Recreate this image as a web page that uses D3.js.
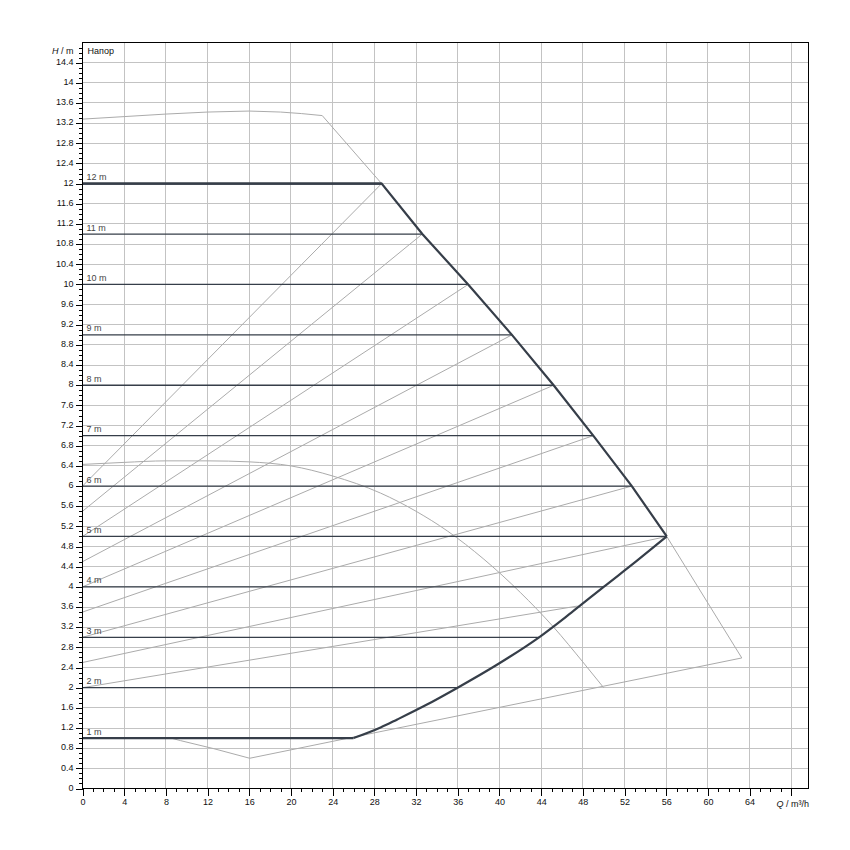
<!DOCTYPE html>
<html>
<head>
<meta charset="utf-8">
<script src="https://cdn.jsdelivr.net/npm/d3@7"></script>
<style>
  html, body { margin: 0; padding: 0; background: #fff; }
  svg { display: block; }
  text { font-family: "Liberation Sans", Arial, sans-serif; }
</style>
</head>
<body>
<svg id="chart" width="850" height="850"></svg>
<script>
// ---------------- DATA ----------------
const qTickLabels = [0, 4, 8, 12, 16, 20, 24, 28, 32, 36, 40, 44, 48, 52, 56, 60, 64];
const qGrid = [4, 8, 12, 16, 20, 24, 28, 32, 36, 40, 44, 48, 52, 56, 60, 64, 68];
const hTickLabels = [0, 0.4, 0.8, 1.2, 1.6, 2, 2.4, 2.8, 3.2, 3.6, 4, 4.4, 4.8, 5.2, 5.6, 6, 6.4, 6.8,
  7.2, 7.6, 8, 8.4, 8.8, 9.2, 9.6, 10, 10.4, 10.8, 11.2, 11.6, 12, 12.4, 12.8, 13.2, 13.6, 14, 14.4];

// constant-head setpoints (Δp-c) and where each line ends at the limit curve
const setpointH = [1, 2, 3, 4, 5, 6, 7, 8, 9, 10, 11, 12];
const setpointEndQ = [26.0, 35.9, 43.8, 50.0, 56.05, 52.7, 49.0, 45.2, 41.2, 37.0, 32.6, 28.7];

// variable-head (Δp-v) lines: start head at Q=0, end point
const dpvStartH = [2, 2.5, 3, 3.5, 4, 4.5, 5, 5.5, 6];
const dpvEndQ = [47.5, 56.05, 52.7, 49.0, 45.2, 41.2, 37.0, 32.6, 28.7];
const dpvEndH = [3.62, 5, 6, 7, 8, 9, 10, 11, 12];

// upper limit (dark) from 12 m corner to 5 m corner
const upperQ = [0, 28.7, 32.6, 37.0, 41.2, 45.2, 49.0, 52.7, 56.05];
const upperH = [12, 12, 11, 10, 9, 8, 7, 6, 5];
// lower limit (dark) from 1 m corner up to 5 m corner
const lowerQ = [26.0, 28.6, 30.2, 33.0, 35.9, 39.8, 43.8, 46.9, 50.0, 53.2, 56.05];
const lowerH = [1, 1.21, 1.37, 1.66, 1.99, 2.46, 3.0, 3.49, 4.0, 4.52, 5];

// max pump curve (grey)
const maxQ = [0, 4, 8, 12, 16, 19, 21, 23, 28.7, 32.6, 37.0, 41.2, 45.2, 49.0, 52.7, 56.05, 63.25];
const maxH = [13.28, 13.33, 13.38, 13.42, 13.44, 13.42, 13.39, 13.35, 12, 11, 10, 9, 8, 7, 6, 5, 2.59];
// min line (grey)
const minQ = [0, 8.5, 9.4, 12.6, 16.04, 26.0, 50.0, 63.25];
const minH = [1.0, 1.0, 0.95, 0.79, 0.6, 1.02, 2.03, 2.59];
// intermediate pump curve (grey)
const midQ = [0, 4, 8, 12, 16, 20, 24, 28.6, 32, 35, 38.5, 42, 45.2, 48, 50];
const midH = [6.43, 6.47, 6.5, 6.5, 6.48, 6.4, 6.2, 5.86, 5.5, 5.11, 4.55, 3.89, 3.2, 2.51, 2.0];

// ---------------- CHART ----------------
const svg = d3.select("#chart");
const x = d3.scaleLinear().domain([0, 69.65]).range([82.5, 808.5]);
const y = d3.scaleLinear().domain([0, 14.8]).range([788.5, 42.5]);
const x0 = x(0), x1 = x(69.65), y0 = y(0), y1 = y(14.8);

const DARK = "#363e49";
const GREY = "#ababab";
const GRID = "#c3c3c3";

// grid
const g = svg.append("g").attr("shape-rendering", "crispEdges");
g.selectAll("line.vg").data(qGrid).join("line")
  .attr("x1", d => x(d)).attr("x2", d => x(d)).attr("y1", y0).attr("y2", y1)
  .attr("stroke", GRID).attr("stroke-width", 1);
g.selectAll("line.hg").data(hTickLabels.filter(d => d > 0)).join("line")
  .attr("y1", d => y(d)).attr("y2", d => y(d)).attr("x1", x0).attr("x2", x1)
  .attr("stroke", GRID).attr("stroke-width", 1);

const line = d3.line().x(d => x(d[0])).y(d => y(d[1]));
const smooth = d3.line().x(d => x(d[0])).y(d => y(d[1])).curve(d3.curveMonotoneX);
const zip = (a, b) => a.map((v, i) => [v, b[i]]);

const curves = svg.append("g").attr("fill", "none").attr("stroke", GREY).attr("stroke-width", 1);
// Δp-v lines
dpvStartH.forEach((h, i) => {
  curves.append("path").attr("d", line([[0, h], [dpvEndQ[i], dpvEndH[i]]]));
});
curves.append("path").attr("d", line(zip(maxQ, maxH)));
curves.append("path").attr("d", line(zip(minQ, minH)));
curves.append("path").attr("d", smooth(zip(midQ, midH)));

// constant head lines
const dark = svg.append("g").attr("fill", "none").attr("stroke", DARK);
setpointH.forEach((h, i) => {
  dark.append("line")
    .attr("x1", x(0)).attr("x2", x(setpointEndQ[i]))
    .attr("y1", y(h)).attr("y2", y(h))
    .attr("stroke-width", (h === 1 || h === 12) ? 2.4 : 1.3);
});
dark.append("path").attr("d", line(zip(upperQ, upperH))).attr("stroke-width", 2.2);
dark.append("path").attr("d", smooth(zip(lowerQ, lowerH))).attr("stroke-width", 2.2);

// setpoint labels
svg.append("g").selectAll("text").data(setpointH).join("text")
  .attr("x", 86.5).attr("y", d => y(d) - 3.5)
  .attr("font-size", 9).attr("fill", "#454545")
  .text(d => d + " m");

// frame
svg.append("rect").attr("x", x0).attr("y", y1).attr("width", x1 - x0).attr("height", y0 - y1)
  .attr("fill", "none").attr("stroke", "#000").attr("stroke-width", 1.2)
  .attr("shape-rendering", "crispEdges");

// axes
const minorQ = d3.range(0, 69, 1);
const minorH = d3.range(0, 148, 1).map(d => d / 10);

const yMinor = svg.append("g").attr("transform", `translate(${x0},0)`)
  .call(d3.axisLeft(y).tickValues(minorH).tickSize(3.5).tickFormat(""));
const yMajor = svg.append("g").attr("transform", `translate(${x0},0)`)
  .call(d3.axisLeft(y).tickValues(hTickLabels).tickSize(7).tickPadding(2).tickFormat(d => String(d)));
const xMinor = svg.append("g").attr("transform", `translate(0,${y0})`)
  .call(d3.axisBottom(x).tickValues(minorQ).tickSize(3.5).tickFormat(""));
const xMajor = svg.append("g").attr("transform", `translate(0,${y0})`)
  .call(d3.axisBottom(x).tickValues(qTickLabels.concat([68])).tickSize(7).tickPadding(3.5)
    .tickFormat(d => d === 68 ? "" : String(d)));

[yMinor, yMajor, xMinor, xMajor].forEach(a => {
  a.select(".domain").remove();
  a.selectAll("line").attr("stroke", "#000").attr("shape-rendering", "crispEdges");
  a.selectAll("text").attr("font-size", 9).attr("fill", "#111")
    .attr("font-family", "'Liberation Sans', Arial, sans-serif");
});
yMajor.selectAll("text").attr("dy", "0.19em");

// axis titles
const ht = svg.append("text").attr("x", 73.5).attr("y", 54).attr("text-anchor", "end")
  .attr("font-size", 9).attr("fill", "#111");
ht.append("tspan").attr("font-style", "italic").text("H");
ht.append("tspan").text(" / m");

svg.append("text").attr("x", 87.5).attr("y", 54).attr("font-size", 9).attr("fill", "#111").text("Напор");

const qt = svg.append("text").attr("x", 809).attr("y", 806.5).attr("text-anchor", "end")
  .attr("font-size", 9).attr("fill", "#111");
qt.append("tspan").attr("font-style", "italic").text("Q");
qt.append("tspan").text(" / m³/h");
</script>
</body>
</html>
